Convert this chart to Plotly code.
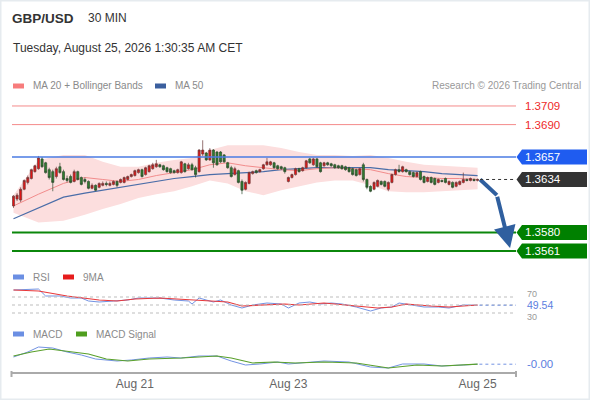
import plotly.graph_objects as go

W, H = 590, 400
FONT = "Liberation Sans, Arial, sans-serif"

# GBP/USD 30 min candles, oldest first
open_ = [1.3607, 1.3614, 1.3613, 1.3624, 1.3631, 1.3635, 1.3642, 1.3645, 1.3655, 1.3651,
         1.3644, 1.3642, 1.3637, 1.3647, 1.3642, 1.3635, 1.3637, 1.3632, 1.3642, 1.3636,
         1.3634, 1.3632, 1.3625, 1.3628, 1.3626, 1.3628, 1.3630, 1.3628, 1.3629, 1.3632,
         1.3631, 1.3631, 1.3634, 1.3637, 1.3638, 1.3641, 1.3644, 1.3639, 1.3642, 1.3645,
         1.3647, 1.3649, 1.3648, 1.3646, 1.3645, 1.3643, 1.3641, 1.3641, 1.3650, 1.3645,
         1.3649, 1.3646, 1.3642, 1.3660, 1.3661, 1.3654, 1.3664, 1.3662, 1.3662, 1.3659,
         1.3651, 1.3646, 1.3639, 1.3643, 1.3632, 1.3624, 1.3630, 1.3640, 1.3643, 1.3642,
         1.3645, 1.3649, 1.3649, 1.3651, 1.3648, 1.3647, 1.3646, 1.3632, 1.3636, 1.3639,
         1.3645, 1.3643, 1.3646, 1.3655, 1.3649, 1.3655, 1.3651, 1.3648, 1.3651, 1.3650,
         1.3649, 1.3648, 1.3648, 1.3647, 1.3646, 1.3645, 1.3644, 1.3639, 1.3649, 1.3634,
         1.3627, 1.3624, 1.3627, 1.3632, 1.3632, 1.3624, 1.3631, 1.3639, 1.3644, 1.3642,
         1.3644, 1.3642, 1.3641, 1.3637, 1.3642, 1.3637, 1.3632, 1.3636, 1.3635, 1.3631,
         1.3633, 1.3635, 1.3629, 1.3631, 1.3627, 1.3629, 1.3631, 1.3634, 1.3633, 1.3634,
         1.3633]
high = [1.3618, 1.3620, 1.3626, 1.3634, 1.3638, 1.3645, 1.3649, 1.3658, 1.3657, 1.3652,
        1.3646, 1.3644, 1.3647, 1.3651, 1.3644, 1.3638, 1.3639, 1.3644, 1.3643, 1.3637,
        1.3636, 1.3633, 1.3630, 1.3629, 1.3631, 1.3632, 1.3632, 1.3632, 1.3633, 1.3633,
        1.3635, 1.3637, 1.3638, 1.3640, 1.3644, 1.3645, 1.3645, 1.3647, 1.3649, 1.3651,
        1.3654, 1.3650, 1.3649, 1.3647, 1.3646, 1.3644, 1.3645, 1.3653, 1.3651, 1.3651,
        1.3651, 1.3648, 1.3665, 1.3674, 1.3662, 1.3666, 1.3665, 1.3663, 1.3663, 1.3660,
        1.3652, 1.3648, 1.3647, 1.3644, 1.3634, 1.3632, 1.3642, 1.3643, 1.3644, 1.3645,
        1.3650, 1.3656, 1.3653, 1.3652, 1.3649, 1.3648, 1.3647, 1.3637, 1.3640, 1.3646,
        1.3646, 1.3647, 1.3654, 1.3656, 1.3656, 1.3656, 1.3652, 1.3652, 1.3652, 1.3651,
        1.3650, 1.3649, 1.3649, 1.3648, 1.3647, 1.3646, 1.3645, 1.3646, 1.3651, 1.3635,
        1.3628, 1.3632, 1.3634, 1.3633, 1.3633, 1.3632, 1.3640, 1.3645, 1.3649, 1.3648,
        1.3645, 1.3643, 1.3642, 1.3642, 1.3643, 1.3638, 1.3637, 1.3637, 1.3636, 1.3635,
        1.3634, 1.3636, 1.3633, 1.3632, 1.3632, 1.3633, 1.3641, 1.3635, 1.3636, 1.3635,
        1.3635]
low = [1.3605, 1.3612, 1.3611, 1.3623, 1.3629, 1.3634, 1.3641, 1.3644, 1.3646, 1.3640,
       1.3634, 1.3622, 1.3635, 1.3640, 1.3633, 1.3631, 1.3630, 1.3631, 1.3633, 1.3628,
       1.3630, 1.3624, 1.3624, 1.3622, 1.3625, 1.3627, 1.3627, 1.3627, 1.3628, 1.3626,
       1.3630, 1.3630, 1.3633, 1.3636, 1.3637, 1.3640, 1.3636, 1.3638, 1.3641, 1.3644,
       1.3646, 1.3646, 1.3643, 1.3641, 1.3640, 1.3640, 1.3640, 1.3640, 1.3641, 1.3644,
       1.3643, 1.3636, 1.3641, 1.3658, 1.3653, 1.3653, 1.3646, 1.3648, 1.3651, 1.3651,
       1.3645, 1.3636, 1.3638, 1.3630, 1.3619, 1.3623, 1.3629, 1.3639, 1.3640, 1.3641,
       1.3644, 1.3648, 1.3648, 1.3645, 1.3644, 1.3644, 1.3640, 1.3631, 1.3635, 1.3638,
       1.3641, 1.3642, 1.3645, 1.3650, 1.3648, 1.3646, 1.3641, 1.3647, 1.3648, 1.3647,
       1.3645, 1.3645, 1.3644, 1.3643, 1.3641, 1.3638, 1.3637, 1.3638, 1.3632, 1.3624,
       1.3621, 1.3623, 1.3626, 1.3628, 1.3626, 1.3622, 1.3630, 1.3638, 1.3641, 1.3641,
       1.3641, 1.3638, 1.3636, 1.3636, 1.3633, 1.3630, 1.3631, 1.3630, 1.3628, 1.3630,
       1.3631, 1.3630, 1.3628, 1.3625, 1.3626, 1.3628, 1.3630, 1.3632, 1.3632, 1.3632,
       1.3632]
close = [1.3617, 1.3618, 1.3624, 1.3633, 1.3636, 1.3644, 1.3648, 1.3656, 1.3647, 1.3641,
         1.3636, 1.3631, 1.3645, 1.3641, 1.3634, 1.3633, 1.3631, 1.3642, 1.3634, 1.3629,
         1.3632, 1.3625, 1.3628, 1.3623, 1.3630, 1.3630, 1.3629, 1.3630, 1.3632, 1.3628,
         1.3634, 1.3636, 1.3637, 1.3639, 1.3643, 1.3644, 1.3637, 1.3646, 1.3648, 1.3649,
         1.3650, 1.3647, 1.3644, 1.3642, 1.3641, 1.3641, 1.3644, 1.3652, 1.3642, 1.3649,
         1.3644, 1.3639, 1.3664, 1.3664, 1.3654, 1.3664, 1.3651, 1.3649, 1.3652, 1.3652,
         1.3646, 1.3637, 1.3645, 1.3631, 1.3623, 1.3631, 1.3641, 1.3642, 1.3641, 1.3644,
         1.3649, 1.3652, 1.3652, 1.3646, 1.3645, 1.3645, 1.3642, 1.3636, 1.3639, 1.3645,
         1.3642, 1.3646, 1.3653, 1.3651, 1.3655, 1.3647, 1.3642, 1.3651, 1.3649, 1.3648,
         1.3646, 1.3646, 1.3645, 1.3644, 1.3642, 1.3639, 1.3638, 1.3645, 1.3634, 1.3626,
         1.3622, 1.3631, 1.3633, 1.3629, 1.3627, 1.3631, 1.3639, 1.3644, 1.3642, 1.3647,
         1.3642, 1.3639, 1.3637, 1.3641, 1.3634, 1.3631, 1.3636, 1.3631, 1.3629, 1.3634,
         1.3632, 1.3631, 1.3632, 1.3626, 1.3631, 1.3632, 1.3634, 1.3633, 1.3635, 1.3633,
         1.3634]

# MA 20 + Bollinger Bands and MA 50, read every few bars
study_x = [0, 7, 14, 20, 25, 30, 35, 40, 45, 50, 55, 60, 65,
           70, 75, 80, 85, 90, 95, 100, 105, 110, 115, 120, 125, 130]
ma20 = [1.3607, 1.3619, 1.3630, 1.3636, 1.3634, 1.3632, 1.3634, 1.3638, 1.3641, 1.3644, 1.3649, 1.3651, 1.3648,
        1.3646, 1.3644, 1.3643, 1.3645, 1.3646, 1.3645, 1.3644, 1.3640, 1.3637, 1.3636, 1.3635, 1.3635, 1.3634]
ma50 = [1.3594, 1.3605, 1.3616, 1.3620, 1.3623, 1.3626, 1.3629, 1.3632, 1.3635, 1.3637, 1.3639, 1.3640, 1.3641,
        1.3642, 1.3644, 1.3645, 1.3646, 1.3646, 1.3646, 1.3646, 1.3644, 1.3643, 1.3642, 1.3640, 1.3639, 1.3638]
bb_upper = [1.3618, 1.3654, 1.3659, 1.3659, 1.3652, 1.3647, 1.3647, 1.3651, 1.3654, 1.3656, 1.3664, 1.3669, 1.3669,
            1.3669, 1.3666, 1.3662, 1.3659, 1.3659, 1.3658, 1.3659, 1.3656, 1.3652, 1.3649, 1.3648, 1.3647, 1.3646]
bb_lower = [1.3600, 1.3590, 1.3592, 1.3598, 1.3604, 1.3609, 1.3615, 1.3619, 1.3622, 1.3627, 1.3633, 1.3630, 1.3622,
            1.3618, 1.3623, 1.3627, 1.3631, 1.3633, 1.3633, 1.3628, 1.3622, 1.3621, 1.3621, 1.3622, 1.3623, 1.3624]

# RSI and its 9 period average
rsi_x = [0, 7, 9, 13, 16, 19, 21, 24, 28, 32, 35, 38, 41, 45, 49, 50, 52, 54, 56, 58, 61,
         64, 67, 71, 75, 77, 80, 83, 86, 89, 92, 96, 100, 103, 106, 108, 112, 115, 119, 122, 126, 130]
rsi = [87.5, 90, 72.5, 72.5, 67.5, 67.5, 60, 57.5, 60, 62.5, 67.5, 67.5, 67.5, 62.5, 60, 52.5, 67.5, 62.5, 57.5, 62.5, 50,
       42.5, 50, 55, 52.5, 42.5, 55, 57.5, 52.5, 55, 52.5, 45, 35, 42.5, 45, 55, 50, 45, 45, 42.5, 50, 49.54]
rsi_ma_x = [0, 7, 15, 20, 24, 29, 34, 41, 49, 56, 60, 64, 69, 76, 80, 87, 96, 102, 106, 110, 117, 122, 130]
rsi_ma = [87.5, 85, 72.5, 67.5, 62.5, 60, 65, 67.5, 62.5, 60, 57.5, 47.5, 50, 52.5, 50, 55, 47.5, 42.5, 45, 52.5, 47.5, 45, 50]

# MACD and signal
macd_x = [0, 4, 7, 11, 15, 19, 23, 29, 33, 38, 43, 47, 52, 57, 61,
          65, 69, 74, 77, 83, 87, 94, 100, 105, 109, 115, 120, 126, 130]
macd = [0.00035, 0.0006, 0.00085, 0.0008, 0.0006, 0.00045, 0.00025, 0.00015, 0.0002, 0.0003, 0.00035, 0.0003, 0.0004, 0.0004, 0.00015,
        -0.00005, 0.0, 0.0001, 0.0, 0.0001, 0.00015, 0.0001, -0.00015, -0.0002, 0.0, 0.0, -0.0001, -0.00005, -0.00001]
signal_x = [0, 5, 10, 15, 21, 26, 32, 38, 47, 57, 61, 67, 73, 79, 87, 96, 105, 113, 120, 130]
signal = [0.0004, 0.0006, 0.00075, 0.00065, 0.0005, 0.00025, 0.00015, 0.00025, 0.0003, 0.0004,
          0.0003, 0.00005, 0.0001, 0.00005, 0.0001, 0.00005, -0.0002, -0.00005, -0.0001, -0.00001]

# key levels
resistances = [1.3709, 1.3690]
pivot = 1.3657
last_price = 1.3634
supports = [1.3580, 1.3561]

# expected path drawn as an arrow
arrow_x = [130.7, 135.4, 139.1]
arrow_y = [1.3634, 1.3618, 1.3564]

tick_vals = [34, 77, 130]
tick_text = ["Aug 21", "Aug 23", "Aug 25"]

# layout in pixels -> paper
def px(x):
    return x / W

def py(y):
    return 1 - y / H

price_range = [1.35498, 1.37202]
price_px = (95, 262)
x_range = [-0.42, 140.76]

fig = go.Figure()

fig.add_trace(go.Scatter(x=study_x, y=bb_upper, mode="lines", line=dict(width=0),
                         hoverinfo="skip", yaxis="y"))
fig.add_trace(go.Scatter(x=study_x, y=bb_lower, mode="lines", line=dict(width=0),
                         fill="tonexty", fillcolor="#fcdede", hoverinfo="skip", yaxis="y"))
fig.add_trace(go.Scatter(x=study_x, y=ma50, mode="lines", line=dict(color="#4a6da8", width=1.2), yaxis="y"))
fig.add_trace(go.Scatter(x=study_x, y=ma20, mode="lines", line=dict(color="#f28c8c", width=1), yaxis="y"))

# candles sit on an overlaying axis so they are drawn above the band fill
fig.add_trace(go.Candlestick(
    x=list(range(len(close))), open=open_, high=high, low=low, close=close,
    increasing=dict(line=dict(color="#6b3b3b", width=0.7), fillcolor="#e41414"),
    decreasing=dict(line=dict(color="#2f4a2f", width=0.7), fillcolor="#2e7d2e"),
    whiskerwidth=0, yaxis="y4", xaxis="x",
))

# forecast arrow: first leg as a line, second leg carries the head
fig.add_trace(go.Scatter(x=arrow_x[:2], y=arrow_y[:2], mode="lines",
                         line=dict(color="#2f5f9f", width=4), cliponaxis=False, yaxis="y4"))

fig.add_trace(go.Scatter(x=rsi_x, y=rsi, mode="lines", line=dict(color="#7393e3", width=1), yaxis="y2"))
fig.add_trace(go.Scatter(x=rsi_ma_x, y=rsi_ma, mode="lines", line=dict(color="#e8393b", width=1.2), yaxis="y2"))
fig.add_trace(go.Scatter(x=macd_x, y=macd, mode="lines", line=dict(color="#7393e3", width=1), yaxis="y3"))
fig.add_trace(go.Scatter(x=signal_x, y=signal, mode="lines", line=dict(color="#5aa02c", width=1.2), yaxis="y3"))

shapes = []
annotations = [dict(x=arrow_x[2], y=arrow_y[2], ax=arrow_x[1], ay=arrow_y[1],
                    xref="x", yref="y", axref="x", ayref="y", text="",
                    showarrow=True, arrowhead=2, arrowsize=1.1, arrowwidth=4, arrowcolor="#2f5f9f")]

def text(t, x, y, size=10, color="#8a8a8a", xref="paper", yref="paper", bold=False, bg=None, anchor="left"):
    annotations.append(dict(
        text=f"<b>{t}</b>" if bold else t, x=x, y=y, xref=xref, yref=yref,
        xanchor=anchor, yanchor="middle", showarrow=False,
        font=dict(family=FONT, size=size, color=color),
        bgcolor=bg, borderpad=0,
    ))

# level lines
for lv in resistances:
    shapes.append(dict(type="line", xref="x domain", yref="y", x0=0, x1=1, y0=lv, y1=lv,
                       line=dict(color="#f48a8a", width=1)))
    text(f"{lv:.4f}", px(524), lv, size=11.5, color="#ee2a2a", yref="y")

shapes.append(dict(type="line", xref="x domain", yref="y", x0=0, x1=1, y0=pivot, y1=pivot,
                   line=dict(color="#4a7be3", width=1.6)))
for lv in supports:
    shapes.append(dict(type="line", xref="x domain", yref="y", x0=0, x1=1, y0=lv, y1=lv,
                       line=dict(color="#0b870b", width=2)))
shapes.append(dict(type="line", xref="x", yref="y", x0=len(close) - 0.3, x1=x_range[1],
                   y0=last_price, y1=last_price, line=dict(color="#333333", width=1, dash="dot")))

# tag boxes on the right
half = 7.5 * (price_range[1] - price_range[0]) / (price_px[1] - price_px[0])
for lv, col in [(pivot, "#1f5cf0"), (last_price, "#333333"), (supports[0], "#008000"), (supports[1], "#008000")]:
    path = (f"M {px(516.5)},{lv} L {px(522)},{lv + half} L {px(587)},{lv + half} "
            f"L {px(587)},{lv - half} L {px(522)},{lv - half} Z")
    shapes.append(dict(type="path", xref="paper", yref="y", path=path,
                       fillcolor=col, line=dict(width=0)))
    text(f"{lv:.4f}", px(524), lv, size=11.5, color="white", yref="y")

# RSI guides
for lv in [70, 50, 30]:
    shapes.append(dict(type="line", xref="x domain", yref="y2", x0=0, x1=1, y0=lv, y1=lv,
                       line=dict(color="#bdbdbd", width=1, dash="dot")))
shapes.append(dict(type="line", xref="x", yref="y2", x0=len(close) - 0.5, x1=x_range[1],
                   y0=rsi[-1], y1=rsi[-1], line=dict(color="#7393e3", width=1, dash="dot")))
shapes.append(dict(type="line", xref="x", yref="y3", x0=len(close) - 0.5, x1=x_range[1],
                   y0=macd[-1], y1=macd[-1], line=dict(color="#7393e3", width=1, dash="dot")))
# guide labels nudged apart so they do not sit on the current value
text("70", px(526), 78, size=9, color="#999999", yref="y2")
text("30", px(526), 21, size=9, color="#999999", yref="y2")
text(f"{rsi[-1]:.2f}", px(526), rsi[-1], size=10.5, color="#5b7ee0", yref="y2", bg="white")
text("-0.00", px(526), macd[-1], size=11.5, color="#5b7ee0", yref="y3")

# x axis end marks
for xe in (11.5, 516):
    shapes.append(dict(type="line", xref="paper", yref="paper", x0=px(xe), x1=px(xe),
                       y0=py(371), y1=py(377), line=dict(color="#aaaaaa", width=2)))

# header
text("GBP/USD", px(11), py(18), size=13.5, color="#333333", bold=True)
text("30 MIN", px(87), py(18), size=12, color="#333333")
text("Tuesday, August 25, 2026 1:30:35 AM CET", px(12), py(48), size=12, color="#333333")
text("Research © 2026 Trading Central", px(582), py(86), size=10, color="#999999", anchor="right")

# legends
legend_items = [
    (13, 86, "#f77c7c", "MA 20 + Bollinger Bands"),
    (155, 86, "#3b5f9e", "MA 50"),
    (13, 277, "#6b8fe3", "RSI"),
    (63, 277, "#e61c1c", "9MA"),
    (13, 334, "#6b8fe3", "MACD"),
    (76, 334, "#4f9e1e", "MACD Signal"),
]
for lx, ly, col, label in legend_items:
    shapes.append(dict(type="rect", xref="paper", yref="paper", x0=px(lx), x1=px(lx + 11),
                       y0=py(ly + 2.5), y1=py(ly - 2.5), fillcolor=col, line=dict(width=0)))
    text(label, px(lx + 19), py(ly), size=10, color="#8a8a8a")

# outer frame
shapes.append(dict(type="rect", xref="paper", yref="paper", x0=0, x1=1, y0=0, y1=1,
                   line=dict(color="#e6ebef", width=3)))

fig.update_layout(
    width=W, height=H,
    margin=dict(l=0, r=0, t=0, b=0),
    paper_bgcolor="white", plot_bgcolor="white",
    showlegend=False, boxgap=0.15,
    font=dict(family=FONT, color="#666666"),
    shapes=shapes, annotations=annotations,
    xaxis=dict(domain=[px(12), px(516)], range=x_range, anchor="y3",
               rangeslider=dict(visible=False), showgrid=False, zeroline=False,
               showline=True, linecolor="#aaaaaa", linewidth=2,
               tickmode="array", tickvals=tick_vals, ticktext=tick_text,
               tickfont=dict(size=12, color="#666666"), ticks=""),
    yaxis=dict(domain=[py(price_px[1]), py(price_px[0])], range=price_range,
               visible=False, showgrid=False, zeroline=False),
    yaxis4=dict(overlaying="y", range=price_range, anchor="x",
                visible=False, showgrid=False, zeroline=False),
    yaxis2=dict(domain=[py(325), py(285)], range=[0, 100], anchor="x",
                visible=False, showgrid=False, zeroline=False),
    yaxis3=dict(domain=[py(372), py(342)], range=[-0.0004, 0.0011], anchor="x",
                visible=False, showgrid=False, zeroline=False),
)

# the page keeps its default 8px body margin otherwise
fig.write_html("out.html", config={"displayModeBar": False},
               post_script="document.body.style.margin='0px';")
